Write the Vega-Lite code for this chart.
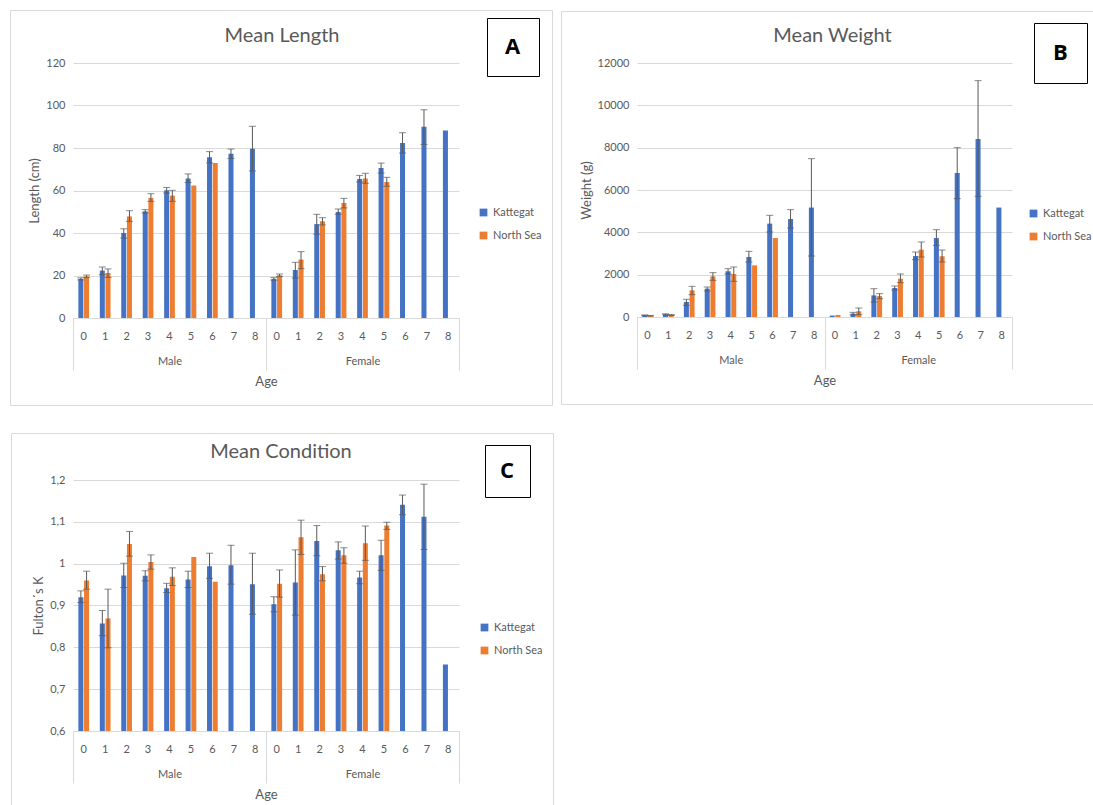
{
  "$schema": "https://vega.github.io/schema/vega-lite/v6.json",
  "background": "white",
  "padding": {"left": 9, "top": 9, "right": 0, "bottom": 0},
  "config": {
    "font": "Lato",
    "view": {"stroke": null},
    "axis": {"labelColor": "#595959", "titleColor": "#595959", "labelFontSize": 11, "titleFontSize": 13, "titleFontWeight": "normal", "gridColor": "#d9d9d9", "domainColor": "#d9d9d9", "ticks": false},
    "title": {"fontSize": 20, "fontWeight": "normal", "color": "#595959", "anchor": "middle", "frame": "group"},
    "legend": {"labelColor": "#595959", "labelFontSize": 11, "symbolType": "square", "symbolSize": 60, "rowPadding": 11, "padding": 0}
  },
  "datasets": {
    "A": [
      {"key": "M0", "region": "Kattegat", "mean": 18.4, "lo": 17.9, "hi": 18.9},
      {"key": "M1", "region": "Kattegat", "mean": 22.3, "lo": 20.4, "hi": 24.0},
      {"key": "M2", "region": "Kattegat", "mean": 40.0, "lo": 37.6, "hi": 42.0},
      {"key": "M3", "region": "Kattegat", "mean": 50.2, "lo": 49.4, "hi": 51.0},
      {"key": "M4", "region": "Kattegat", "mean": 60.1, "lo": 58.8, "hi": 61.4},
      {"key": "M5", "region": "Kattegat", "mean": 65.6, "lo": 63.8, "hi": 67.8},
      {"key": "M6", "region": "Kattegat", "mean": 75.6, "lo": 73.0, "hi": 78.3},
      {"key": "M7", "region": "Kattegat", "mean": 77.3, "lo": 75.1, "hi": 79.5},
      {"key": "M8", "region": "Kattegat", "mean": 79.7, "lo": 69.2, "hi": 90.2},
      {"key": "M0", "region": "North Sea", "mean": 19.6, "lo": 19.0, "hi": 20.2},
      {"key": "M1", "region": "North Sea", "mean": 21.2, "lo": 19.1, "hi": 23.1},
      {"key": "M2", "region": "North Sea", "mean": 47.8, "lo": 45.5, "hi": 50.5},
      {"key": "M3", "region": "North Sea", "mean": 56.5, "lo": 54.9, "hi": 58.5},
      {"key": "M4", "region": "North Sea", "mean": 57.6, "lo": 54.9, "hi": 60.1},
      {"key": "M5", "region": "North Sea", "mean": 62.3},
      {"key": "M6", "region": "North Sea", "mean": 72.9},
      {"key": "F0", "region": "Kattegat", "mean": 18.4, "lo": 17.8, "hi": 19.0},
      {"key": "F1", "region": "Kattegat", "mean": 22.6, "lo": 18.8, "hi": 26.2},
      {"key": "F2", "region": "Kattegat", "mean": 44.2, "lo": 39.5, "hi": 48.8},
      {"key": "F3", "region": "Kattegat", "mean": 49.9, "lo": 48.8, "hi": 51.3},
      {"key": "F4", "region": "Kattegat", "mean": 65.4, "lo": 64.0, "hi": 67.1},
      {"key": "F5", "region": "Kattegat", "mean": 70.6, "lo": 68.2, "hi": 72.9},
      {"key": "F6", "region": "Kattegat", "mean": 82.4, "lo": 77.6, "hi": 87.2},
      {"key": "F7", "region": "Kattegat", "mean": 90.0, "lo": 81.7, "hi": 98.0},
      {"key": "F8", "region": "Kattegat", "mean": 88.2},
      {"key": "F0", "region": "North Sea", "mean": 20.1, "lo": 19.5, "hi": 20.7},
      {"key": "F1", "region": "North Sea", "mean": 27.5, "lo": 23.2, "hi": 31.2},
      {"key": "F2", "region": "North Sea", "mean": 45.5, "lo": 43.8, "hi": 47.2},
      {"key": "F3", "region": "North Sea", "mean": 54.1, "lo": 51.8, "hi": 56.3},
      {"key": "F4", "region": "North Sea", "mean": 65.6, "lo": 63.4, "hi": 68.1},
      {"key": "F5", "region": "North Sea", "mean": 64.0, "lo": 62.0, "hi": 66.2}
    ],
    "B": [
      {"key": "M0", "region": "Kattegat", "mean": 80, "lo": 60, "hi": 100},
      {"key": "M1", "region": "Kattegat", "mean": 126, "lo": 100, "hi": 150},
      {"key": "M2", "region": "Kattegat", "mean": 710, "lo": 551, "hi": 835},
      {"key": "M3", "region": "Kattegat", "mean": 1340, "lo": 1229, "hi": 1417},
      {"key": "M4", "region": "Kattegat", "mean": 2160, "lo": 2032, "hi": 2284},
      {"key": "M5", "region": "Kattegat", "mean": 2835, "lo": 2599, "hi": 3103},
      {"key": "M6", "region": "Kattegat", "mean": 4410, "lo": 4016, "hi": 4804},
      {"key": "M7", "region": "Kattegat", "mean": 4630, "lo": 4205, "hi": 5072},
      {"key": "M8", "region": "Kattegat", "mean": 5170, "lo": 2882, "hi": 7481},
      {"key": "M0", "region": "North Sea", "mean": 60, "lo": 45, "hi": 75},
      {"key": "M1", "region": "North Sea", "mean": 95, "lo": 70, "hi": 120},
      {"key": "M2", "region": "North Sea", "mean": 1260, "lo": 1055, "hi": 1449},
      {"key": "M3", "region": "North Sea", "mean": 1920, "lo": 1733, "hi": 2095},
      {"key": "M4", "region": "North Sea", "mean": 2030, "lo": 1685, "hi": 2363},
      {"key": "M5", "region": "North Sea", "mean": 2440},
      {"key": "M6", "region": "North Sea", "mean": 3730},
      {"key": "F0", "region": "Kattegat", "mean": 70},
      {"key": "F1", "region": "Kattegat", "mean": 160, "lo": 100, "hi": 220},
      {"key": "F2", "region": "Kattegat", "mean": 1020, "lo": 709, "hi": 1339},
      {"key": "F3", "region": "Kattegat", "mean": 1370, "lo": 1276, "hi": 1465},
      {"key": "F4", "region": "Kattegat", "mean": 2880, "lo": 2709, "hi": 3071},
      {"key": "F5", "region": "Kattegat", "mean": 3730, "lo": 3386, "hi": 4127},
      {"key": "F6", "region": "Kattegat", "mean": 6800, "lo": 5591, "hi": 8001},
      {"key": "F7", "region": "Kattegat", "mean": 8410, "lo": 5702, "hi": 11167},
      {"key": "F8", "region": "Kattegat", "mean": 5170},
      {"key": "F0", "region": "North Sea", "mean": 100},
      {"key": "F1", "region": "North Sea", "mean": 270, "lo": 110, "hi": 425},
      {"key": "F2", "region": "North Sea", "mean": 990, "lo": 866, "hi": 1103},
      {"key": "F3", "region": "North Sea", "mean": 1810, "lo": 1622, "hi": 2032},
      {"key": "F4", "region": "North Sea", "mean": 3180, "lo": 2835, "hi": 3544},
      {"key": "F5", "region": "North Sea", "mean": 2870, "lo": 2599, "hi": 3166}
    ],
    "C": [
      {"key": "M0", "region": "Kattegat", "mean": 0.920, "lo": 0.907, "hi": 0.935},
      {"key": "M1", "region": "Kattegat", "mean": 0.857, "lo": 0.828, "hi": 0.888},
      {"key": "M2", "region": "Kattegat", "mean": 0.972, "lo": 0.943, "hi": 1.001},
      {"key": "M3", "region": "Kattegat", "mean": 0.971, "lo": 0.959, "hi": 0.983},
      {"key": "M4", "region": "Kattegat", "mean": 0.941, "lo": 0.931, "hi": 0.953},
      {"key": "M5", "region": "Kattegat", "mean": 0.962, "lo": 0.943, "hi": 0.982},
      {"key": "M6", "region": "Kattegat", "mean": 0.994, "lo": 0.965, "hi": 1.025},
      {"key": "M7", "region": "Kattegat", "mean": 0.996, "lo": 0.951, "hi": 1.044},
      {"key": "M8", "region": "Kattegat", "mean": 0.951, "lo": 0.879, "hi": 1.025},
      {"key": "M0", "region": "North Sea", "mean": 0.960, "lo": 0.939, "hi": 0.982},
      {"key": "M1", "region": "North Sea", "mean": 0.869, "lo": 0.799, "hi": 0.939},
      {"key": "M2", "region": "North Sea", "mean": 1.047, "lo": 1.018, "hi": 1.077},
      {"key": "M3", "region": "North Sea", "mean": 1.004, "lo": 0.987, "hi": 1.021},
      {"key": "M4", "region": "North Sea", "mean": 0.969, "lo": 0.948, "hi": 0.990},
      {"key": "M5", "region": "North Sea", "mean": 1.016},
      {"key": "M6", "region": "North Sea", "mean": 0.957},
      {"key": "F0", "region": "Kattegat", "mean": 0.903, "lo": 0.885, "hi": 0.921},
      {"key": "F1", "region": "Kattegat", "mean": 0.955, "lo": 0.877, "hi": 1.033},
      {"key": "F2", "region": "Kattegat", "mean": 1.054, "lo": 1.019, "hi": 1.091},
      {"key": "F3", "region": "Kattegat", "mean": 1.032, "lo": 1.011, "hi": 1.052},
      {"key": "F4", "region": "Kattegat", "mean": 0.967, "lo": 0.952, "hi": 0.982},
      {"key": "F5", "region": "Kattegat", "mean": 1.020, "lo": 0.984, "hi": 1.056},
      {"key": "F6", "region": "Kattegat", "mean": 1.141, "lo": 1.117, "hi": 1.164},
      {"key": "F7", "region": "Kattegat", "mean": 1.112, "lo": 1.034, "hi": 1.190},
      {"key": "F8", "region": "Kattegat", "mean": 0.759},
      {"key": "F0", "region": "North Sea", "mean": 0.952, "lo": 0.920, "hi": 0.985},
      {"key": "F1", "region": "North Sea", "mean": 1.063, "lo": 1.022, "hi": 1.104},
      {"key": "F2", "region": "North Sea", "mean": 0.975, "lo": 0.959, "hi": 0.993},
      {"key": "F3", "region": "North Sea", "mean": 1.020, "lo": 1.001, "hi": 1.038},
      {"key": "F4", "region": "North Sea", "mean": 1.049, "lo": 1.008, "hi": 1.090},
      {"key": "F5", "region": "North Sea", "mean": 1.091, "lo": 1.082, "hi": 1.099}
    ]
  },
  "resolve": {"scale": {"color": "independent", "shape": "independent", "strokeDash": "independent"}, "legend": {"color": "independent", "shape": "independent", "strokeDash": "independent"}},
  "spacing": 26,
  "vconcat": [
    {
      "spacing": 7,
      "resolve": {"scale": {"color": "independent", "shape": "independent", "strokeDash": "independent"}, "legend": {"color": "independent", "shape": "independent", "strokeDash": "independent"}},
      "hconcat": [
        {
          "width": 386, "height": 255,
          "title": {"text": "Mean Length", "dx": 16, "offset": -36},
          "layer": [
            {
              "data": {"name": "A"},
              "encoding": {
                "x": {"field": "key", "type": "nominal", "title": null, "scale": {"domain": ["M0","M1","M2","M3","M4","M5","M6","M7","M8","F0","F1","F2","F3","F4","F5","F6","F7","F8"], "paddingInner": 0.5, "paddingOuter": 0.25}, "axis": {"labelExpr": "slice(datum.value, 1)", "labelAngle": 0, "labelPadding": 12, "ticks": false, "grid": false}},
                "xOffset": {"field": "region", "type": "nominal", "scale": {"domain": ["Kattegat", "North Sea"], "paddingInner": 0.12}}
              },
              "layer": [
                {"mark": {"type": "bar"}, "encoding": {
                  "y": {"field": "mean", "type": "quantitative", "title": "Length (cm)", "scale": {"domain": [0, 120]}, "axis": {"values": [0,20,40,60,80,100,120], "domain": false, "ticks": false, "labelPadding": 8, "titlePadding": 4, "grid": true}},
                  "color": {"field": "region", "type": "nominal", "scale": {"domain": ["Kattegat", "North Sea"], "range": ["#4472C4", "#ED7D31"]}, "legend": {"title": null, "orient": "none", "legendX": 405, "legendY": 144}}}},
                {"mark": {"type": "rule", "color": "#595959", "strokeWidth": 1}, "encoding": {"y": {"field": "lo", "type": "quantitative", "title": "Length (cm)"}, "y2": {"field": "hi"}}},
                {"mark": {"type": "tick", "orient": "horizontal", "size": 7, "thickness": 1, "color": "#595959"}, "encoding": {"y": {"field": "lo", "type": "quantitative", "title": "Length (cm)"}}},
                {"mark": {"type": "tick", "orient": "horizontal", "size": 7, "thickness": 1, "color": "#595959"}, "encoding": {"y": {"field": "hi", "type": "quantitative", "title": "Length (cm)"}}},
                {"mark": {"type": "point", "opacity": 0}, "encoding": {
                  "y": {"field": "mean", "type": "quantitative", "title": "Length (cm)"},
                  "shape": {"datum": "A", "legend": {"title": null, "orient": "none", "legendX": 414, "legendY": -45, "strokeColor": "#000000", "fillColor": "#ffffff", "padding": 18, "labelFontSize": 22, "labelFontWeight": "bold", "labelColor": "#000000", "labelFont": "Open Sans", "symbolSize": 0.01, "symbolOpacity": 0, "symbolStrokeWidth": 0, "labelOffset": -22}}}}
              ]
            },
            {
              "data": {"values": [{"sex": "Male"}, {"sex": "Female"}]},
              "mark": {"type": "rule", "strokeOpacity": 0},
              "encoding": {
                "x": {"field": "sex", "type": "nominal", "title": "Age", "scale": {"domain": ["Male", "Female"], "paddingInner": 0, "paddingOuter": 0}, "axis": {"orient": "bottom", "labelAngle": 0, "tickBand": "extent", "ticks": true, "tickSize": 52, "tickColor": "#d9d9d9", "domain": false, "labelPadding": -15, "titlePadding": 5, "grid": false}},
                "strokeDash": {"field": "sex", "type": "nominal", "legend": {"title": null, "orient": "none", "legendX": -63, "legendY": -53, "strokeColor": "#d9d9d9", "padding": 130, "columns": 2, "columnPadding": 12, "symbolType": "square", "symbolSize": 18225, "symbolOpacity": 0, "symbolStrokeWidth": 0, "labelExpr": "''", "labelOffset": 0}}
              }
            }
          ],
          "resolve": {"scale": {"x": "independent"}, "axis": {"x": "independent"}}
        },
        {
          "width": 375, "height": 254,
          "title": {"text": "Mean Weight", "dx": 8, "offset": -35},
          "layer": [
            {
              "data": {"name": "B"},
              "encoding": {
                "x": {"field": "key", "type": "nominal", "title": null, "scale": {"domain": ["M0","M1","M2","M3","M4","M5","M6","M7","M8","F0","F1","F2","F3","F4","F5","F6","F7","F8"], "paddingInner": 0.5, "paddingOuter": 0.25}, "axis": {"labelExpr": "slice(datum.value, 1)", "labelAngle": 0, "labelPadding": 12, "ticks": false, "grid": false}},
                "xOffset": {"field": "region", "type": "nominal", "scale": {"domain": ["Kattegat", "North Sea"], "paddingInner": 0.12}}
              },
              "layer": [
                {"mark": {"type": "bar"}, "encoding": {
                  "y": {"field": "mean", "type": "quantitative", "title": "Weight (g)", "scale": {"domain": [0, 12000]}, "axis": {"values": [0,2000,4000,6000,8000,10000,12000], "format": "d", "domain": false, "ticks": false, "labelPadding": 8, "titlePadding": 4, "grid": true}},
                  "color": {"field": "region", "type": "nominal", "scale": {"domain": ["Kattegat", "North Sea"], "range": ["#4472C4", "#ED7D31"]}, "legend": {"title": null, "orient": "none", "legendX": 391, "legendY": 145}}}},
                {"mark": {"type": "rule", "color": "#595959", "strokeWidth": 1}, "encoding": {"y": {"field": "lo", "type": "quantitative", "title": "Weight (g)"}, "y2": {"field": "hi"}}},
                {"mark": {"type": "tick", "orient": "horizontal", "size": 7, "thickness": 1, "color": "#595959"}, "encoding": {"y": {"field": "lo", "type": "quantitative", "title": "Weight (g)"}}},
                {"mark": {"type": "tick", "orient": "horizontal", "size": 7, "thickness": 1, "color": "#595959"}, "encoding": {"y": {"field": "hi", "type": "quantitative", "title": "Weight (g)"}}},
                {"mark": {"type": "point", "opacity": 0}, "encoding": {
                  "y": {"field": "mean", "type": "quantitative", "title": "Weight (g)"},
                  "shape": {"datum": "B", "legend": {"title": null, "orient": "none", "legendX": 397, "legendY": -40, "strokeColor": "#000000", "fillColor": "#ffffff", "padding": 19, "labelFontSize": 22, "labelFontWeight": "bold", "labelColor": "#000000", "labelFont": "Open Sans", "symbolSize": 0.01, "symbolOpacity": 0, "symbolStrokeWidth": 0, "labelOffset": -22}}}}
              ]
            },
            {
              "data": {"values": [{"sex": "Male"}, {"sex": "Female"}]},
              "mark": {"type": "rule", "strokeOpacity": 0},
              "encoding": {
                "x": {"field": "sex", "type": "nominal", "title": "Age", "scale": {"domain": ["Male", "Female"], "paddingInner": 0, "paddingOuter": 0}, "axis": {"orient": "bottom", "labelAngle": 0, "tickBand": "extent", "ticks": true, "tickSize": 52, "tickColor": "#d9d9d9", "domain": false, "labelPadding": -15, "titlePadding": 5, "grid": false}},
                "strokeDash": {"field": "sex", "type": "nominal", "legend": {"title": null, "orient": "none", "legendX": -76, "legendY": -52, "strokeColor": "#d9d9d9", "padding": 130, "columns": 2, "columnPadding": 14, "symbolType": "square", "symbolSize": 17689, "symbolOpacity": 0, "symbolStrokeWidth": 0, "labelExpr": "''", "labelOffset": 0}}
              }
            }
          ],
          "resolve": {"scale": {"x": "independent"}, "axis": {"x": "independent"}}
        }
      ]
    },
    {
      "width": 386, "height": 251,
      "title": {"text": "Mean Condition", "dx": 15, "offset": -29},
      "layer": [
        {
          "data": {"name": "C"},
          "encoding": {
            "x": {"field": "key", "type": "nominal", "title": null, "scale": {"domain": ["M0","M1","M2","M3","M4","M5","M6","M7","M8","F0","F1","F2","F3","F4","F5","F6","F7","F8"], "paddingInner": 0.5, "paddingOuter": 0.25}, "axis": {"labelExpr": "slice(datum.value, 1)", "labelAngle": 0, "labelPadding": 12, "ticks": false, "grid": false}},
            "xOffset": {"field": "region", "type": "nominal", "scale": {"domain": ["Kattegat", "North Sea"], "paddingInner": 0.12}}
          },
          "layer": [
            {"mark": {"type": "bar"}, "encoding": {
              "y": {"field": "mean", "type": "quantitative", "title": "Fulton´s K", "scale": {"domain": [0.6, 1.2], "zero": false}, "axis": {"values": [0.6,0.7,0.8,0.9,1,1.1,1.2], "labelExpr": "replace(toString(datum.value), '.', ',')", "domain": false, "ticks": false, "labelPadding": 8, "titlePadding": 4, "grid": true}},
              "y2": {"datum": 0.6},
              "color": {"field": "region", "type": "nominal", "scale": {"domain": ["Kattegat", "North Sea"], "range": ["#4472C4", "#ED7D31"]}, "legend": {"title": null, "orient": "none", "legendX": 406, "legendY": 142}}}},
            {"mark": {"type": "rule", "color": "#595959", "strokeWidth": 1}, "encoding": {"y": {"field": "lo", "type": "quantitative", "title": "Fulton´s K"}, "y2": {"field": "hi"}}},
            {"mark": {"type": "tick", "orient": "horizontal", "size": 7, "thickness": 1, "color": "#595959"}, "encoding": {"y": {"field": "lo", "type": "quantitative", "title": "Fulton´s K"}}},
            {"mark": {"type": "tick", "orient": "horizontal", "size": 7, "thickness": 1, "color": "#595959"}, "encoding": {"y": {"field": "hi", "type": "quantitative", "title": "Fulton´s K"}}},
            {"mark": {"type": "point", "opacity": 0}, "encoding": {
              "y": {"field": "mean", "type": "quantitative", "title": "Fulton´s K"},
              "shape": {"datum": "C", "legend": {"title": null, "orient": "none", "legendX": 412, "legendY": -35, "strokeColor": "#000000", "fillColor": "#ffffff", "padding": 15, "labelFontSize": 22, "labelFontWeight": "bold", "labelColor": "#000000", "labelFont": "Open Sans", "symbolSize": 0.01, "symbolOpacity": 0, "symbolStrokeWidth": 0, "labelOffset": -22}}}}
          ]
        },
        {
          "data": {"values": [{"sex": "Male"}, {"sex": "Female"}]},
          "mark": {"type": "rule", "strokeOpacity": 0},
          "encoding": {
            "x": {"field": "sex", "type": "nominal", "title": "Age", "scale": {"domain": ["Male", "Female"], "paddingInner": 0, "paddingOuter": 0}, "axis": {"orient": "bottom", "labelAngle": 0, "tickBand": "extent", "ticks": true, "tickSize": 52, "tickColor": "#d9d9d9", "domain": false, "labelPadding": -15, "titlePadding": 5, "grid": false}},
            "strokeDash": {"field": "sex", "type": "nominal", "legend": {"title": null, "orient": "none", "legendX": -62, "legendY": -47, "strokeColor": "#d9d9d9", "padding": 130, "columns": 2, "columnPadding": 42, "symbolType": "square", "symbolSize": 14400, "symbolOpacity": 0, "symbolStrokeWidth": 0, "labelExpr": "''", "labelOffset": 0}}
          }
        }
      ],
      "resolve": {"scale": {"x": "independent"}, "axis": {"x": "independent"}}
    }
  ]
}
